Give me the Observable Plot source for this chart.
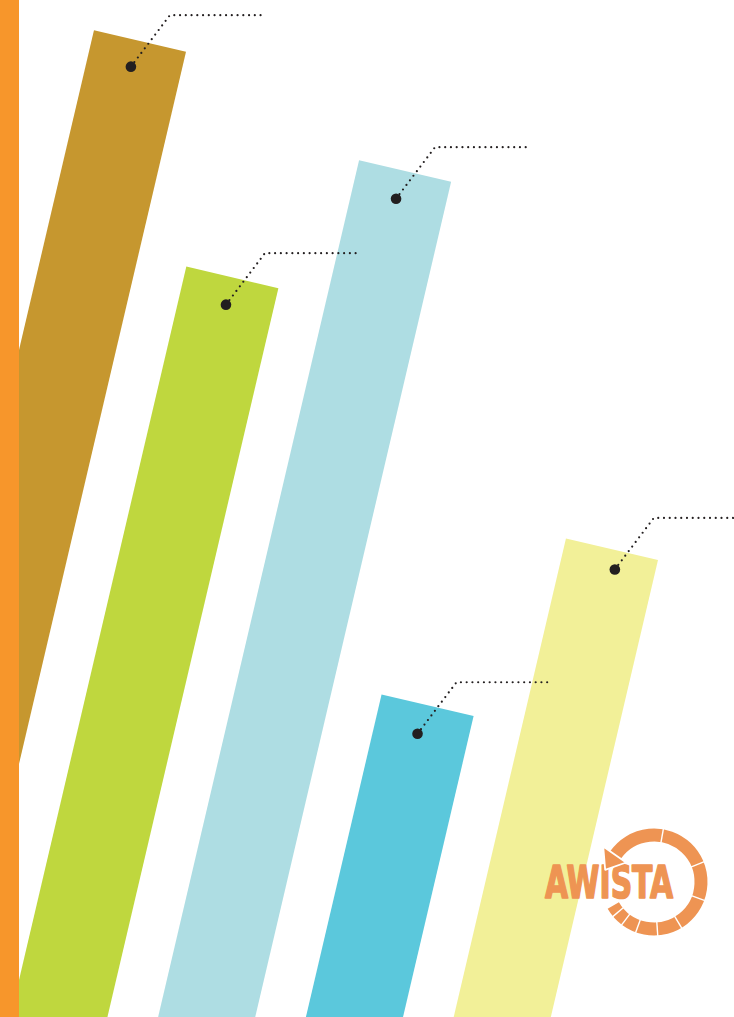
<!DOCTYPE html>
<html><head><meta charset="utf-8">
<script src="https://cdn.jsdelivr.net/npm/d3@7"></script>
<script src="https://cdn.jsdelivr.net/npm/@observablehq/plot@0.6"></script>
<style>
html,body{margin:0;padding:0;background:#fff;}
#wrap{position:relative;width:734px;height:1017px;overflow:hidden;background:#fff;}
#chart{position:absolute;left:0;top:0;}
#strip{position:absolute;left:0;top:0;width:19px;height:1017px;background:#F7962B;}
#logo{position:absolute;left:0;top:0;pointer-events:none;}
</style></head><body>
<div id="wrap"><div id="chart"></div><div id="strip"></div>
<svg id="logo" width="734" height="1017"></svg></div>
<script>
// Data (arbitrary units)
const categories = ["A", "B", "C", "D", "E"];
const values = [102.2, 81.3, 95.6, 44.1, 63.5];
const markerValues = [99.5, 78.5, 92.7, 41.1, 61.6];
const colors = ["#C6972F", "#BFD73E", "#AEDDE3", "#5BC8DC", "#F2F098"];

const data = categories.map((cat, i) => ({cat, value: values[i], marker: markerValues[i]}));

// layout constants
const angle = 13.2;
const dotNudge = [-3, 0, -2.5, -3.3, 7.4];
const rad = angle * Math.PI / 180, C = Math.cos(rad), S = Math.sin(rad);
const rot = (x, y) => [x * C - y * S, x * S + y * C];

const rotated = (index, scales, vals, dims, ctx, next) => {
  const inner = next(index, scales, vals, dims, ctx);
  const g = d3.create("svg:g").attr("transform", `rotate(${angle})`);
  g.node().appendChild(inner);
  return g.node();
};

const chart = Plot.plot({
  width: 734, height: 1017,
  margin: 0,
  x: {type: "band", domain: categories, range: [98.4, 768.5], paddingInner: 0.343, paddingOuter: 0, round: false, axis: null},
  y: {domain: [0, 100], range: [1030, 30], axis: null},
  color: {domain: categories, range: colors},
  marks: [
    Plot.barY(data, {x: "cat", y: "value", fill: "cat", render: rotated}),
    Plot.dot(data, {
      x: "cat", y: "marker",
      render(index, scales) {
        const g = d3.create("svg:g");
        const bw = scales.x.bandwidth();
        for (const i of index) {
          const d = data[i];
          const fx = scales.x(d.cat) + bw / 2 + dotNudge[i];
          const fy = scales.y(d.marker);
          const [sx, sy] = rot(fx, fy);
          const kx = sx + 39, ky = sy - 51.5, ex = kx + 92;
          g.append("path")
            .attr("d", `M${sx},${sy}L${kx},${ky}L${ex},${ky}`)
            .attr("fill", "none").attr("stroke", "#231F20")
            .attr("stroke-width", 2.2).attr("stroke-linecap", "round")
            .attr("stroke-dasharray", "0 5.75");
          g.append("circle").attr("cx", sx).attr("cy", sy).attr("r", 5.3).attr("fill", "#231F20");
        }
        return g.node();
      }
    })
  ]
});
document.getElementById("chart").appendChild(chart);

// Logo
const logo = d3.select("#logo");
const lc = "#EE9453", cx = 654, cy = 882, r = 47;
const pt = (a, rr = r) => [cx + rr * Math.cos(a * Math.PI / 180), cy + rr * Math.sin(a * Math.PI / 180)];
logo.append("text").attr("x", 545).attr("y", 898)
  .attr("font-family", "'Liberation Sans Narrow','DejaVu Sans Condensed','Roboto',sans-serif")
  .attr("font-weight", "bold").attr("font-size", 45)
  .attr("textLength", 128).attr("lengthAdjust", "spacingAndGlyphs")
  .attr("fill", lc).attr("stroke", lc).attr("stroke-width", 1.6).attr("stroke-linejoin", "round")
  .text("AWISTA");
const a0 = 215, a1 = 150 + 360;
const [x0, y0] = pt(a0), [x1, y1] = pt(a1);
logo.append("path").attr("d", `M${x0},${y0}A${r},${r} 0 1 1 ${x1},${y1}`)
  .attr("fill", "none").attr("stroke", lc).attr("stroke-width", 13);
for (const a of [280, 338, 20, 59, 86, 110, 127, 140]) {
  const [ax, ay] = pt(a, r - 8), [bx, by] = pt(a, r + 8);
  logo.append("line").attr("x1", ax).attr("y1", ay).attr("x2", bx).attr("y2", by)
    .attr("stroke", "#fff").attr("stroke-width", 1.4);
}
{
  const u = [Math.cos(a0 * Math.PI / 180), Math.sin(a0 * Math.PI / 180)];
  const tt = [Math.sin(a0 * Math.PI / 180), -Math.cos(a0 * Math.PI / 180)];
  const P = [x0, y0];
  const outer = [P[0] + 15 * u[0], P[1] + 15 * u[1]];
  const inner = [P[0] - 13 * u[0], P[1] - 13 * u[1]];
  const tip = [P[0] + 18 * tt[0], P[1] + 18 * tt[1]];
  logo.append("path").attr("d", `M${outer}L${tip}L${inner}Z`)
    .attr("fill", lc).attr("stroke", "#fff").attr("stroke-width", 1.8).attr("stroke-linejoin", "round");
}
</script>
</body></html>
